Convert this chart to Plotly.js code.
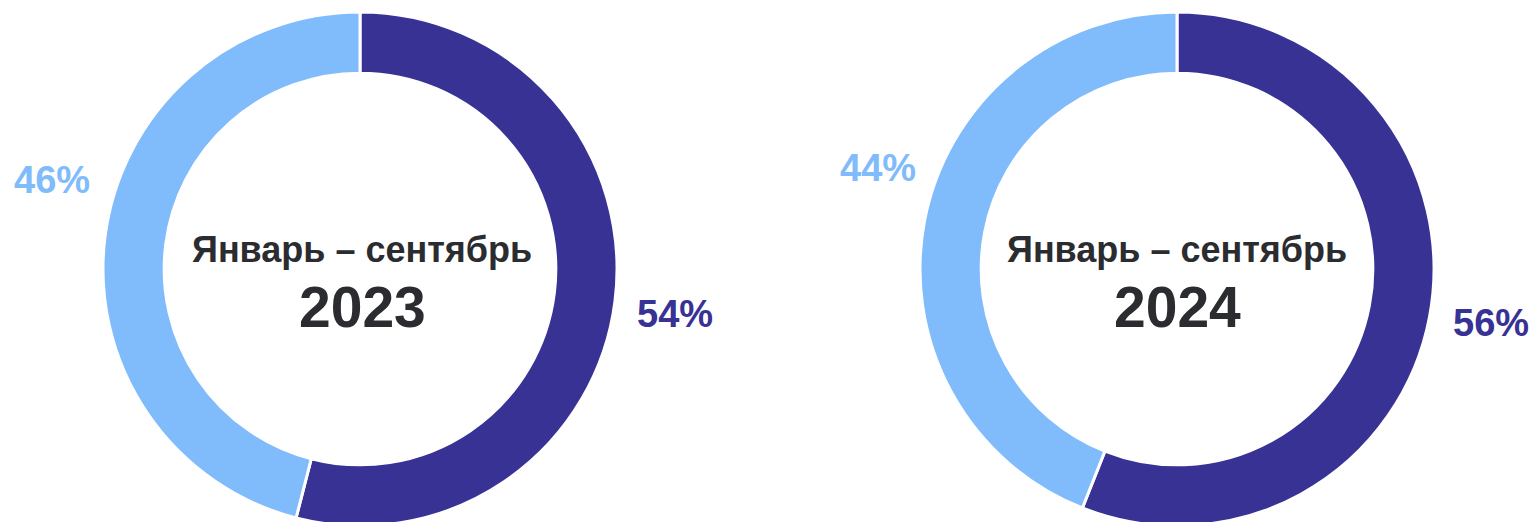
<!DOCTYPE html>
<html>
<head>
<meta charset="utf-8">
<script src="https://cdn.plot.ly/plotly-3.0.1.min.js"></script>
<style>
  html, body { margin: 0; padding: 0; background: #ffffff; overflow: hidden; }
  #chart { width: 1534px; height: 538px; }
</style>
</head>
<body>
<div id="chart"></div>
<script>
// ---- data ----
const categories = ["Категория A", "Категория B"];
const values2023 = [54, 46];
const values2024 = [56, 44];
const periodLabel = "Январь – сентябрь";
const years = ["2023", "2024"];
const colors = ["#373294", "#80BBFB"];

// ---- layout helpers ----
const W = 1534, H = 538, MT = 12, MB = 12;
const plotH = H - MT - MB;
function py(px) { return (H - MB - px) / plotH; }   // pixel-from-top -> paper y
function pxX(px) { return px / W; }

const fontFam = "'Liberation Sans', Arial, Helvetica, sans-serif";

function pieTrace(vals, dom) {
  return {
    type: "pie",
    labels: categories,
    values: vals,
    sort: false,
    direction: "clockwise",
    rotation: 0,
    hole: 0.762,
    textinfo: "none",
    hoverinfo: "label+percent",
    marker: { colors: colors, line: { color: "#ffffff", width: 3 } },
    domain: { x: dom, y: [0, 1] },
    showlegend: false
  };
}

const traces = [
  pieTrace(values2023, [pxX(103), pxX(617)]),
  pieTrace(values2024, [pxX(920), pxX(1434)])
];

function pctAnn(val, color, xpx, ypx) {
  return {
    text: "<b>" + val + "%</b>", showarrow: false,
    xref: "paper", yref: "paper", x: pxX(xpx), y: py(ypx),
    xanchor: "center", yanchor: "middle",
    font: { family: fontFam, size: 38, color: color }
  };
}
function centerAnns(cx, year) {
  return [
    { text: "<b>" + periodLabel + "</b>", showarrow: false,
      xref: "paper", yref: "paper", x: pxX(cx), y: py(249),
      xanchor: "center", yanchor: "middle",
      font: { family: fontFam, size: 36, color: "#2b2c30" } },
    { text: "<b>" + year + "</b>", showarrow: false,
      xref: "paper", yref: "paper", x: pxX(cx), y: py(307),
      xanchor: "center", yanchor: "middle",
      font: { family: fontFam, size: 57, color: "#2b2c30" } }
  ];
}

const annotations = [
  pctAnn(values2023[1], colors[1], 52, 180),
  pctAnn(values2023[0], colors[0], 675, 314),
  pctAnn(values2024[1], colors[1], 878, 168),
  pctAnn(values2024[0], colors[0], 1491, 323)
].concat(centerAnns(362, years[0]), centerAnns(1177, years[1]));

const layout = {
  width: W, height: H,
  margin: { l: 0, r: 0, t: MT, b: MB, pad: 0 },
  paper_bgcolor: "#ffffff",
  plot_bgcolor: "#ffffff",
  showlegend: false,
  annotations: annotations,
  font: { family: fontFam }
};

Plotly.newPlot("chart", traces, layout, { displayModeBar: false, staticPlot: true });
</script>
</body>
</html>
